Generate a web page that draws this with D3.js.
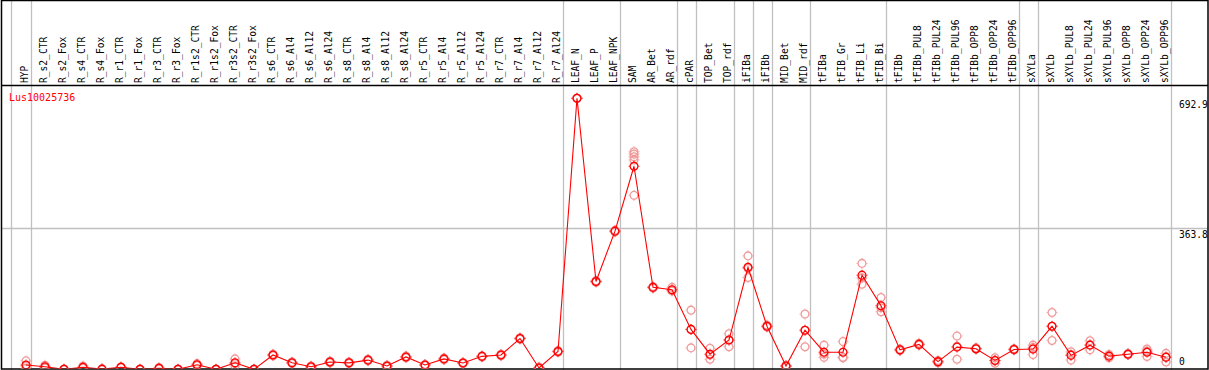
<!DOCTYPE html>
<html><head><meta charset="utf-8">
<script src="https://cdn.jsdelivr.net/npm/d3@7"></script>
<style>html,body{margin:0;padding:0;background:#fff;}svg{display:block;}</style>
</head><body>
<script>
const samples = ["HYP","R_s2_CTR","R_s2_Fox","R_s4_CTR","R_s4_Fox","R_r1_CTR","R_r1_Fox","R_r3_CTR","R_r3_Fox","R_r1s2_CTR","R_r1s2_Fox","R_r3s2_CTR","R_r3s2_Fox","R_s6_CTR","R_s6_Al4","R_s6_Al12","R_s6_Al24","R_s8_CTR","R_s8_Al4","R_s8_Al12","R_s8_Al24","R_r5_CTR","R_r5_Al4","R_r5_Al12","R_r5_Al24","R_r7_CTR","R_r7_Al4","R_r7_Al12","R_r7_Al24","LEAF_N","LEAF_P","LEAF_NPK","SAM","AR_Bet","AR_rdf","cPAR","TOP_Bet","TOP_rdf","iFIBa","iFIBb","MID_Bet","MID_rdf","tFIBa","tFIB_Gr","tFIB_Li","tFIB_Bi","tFIBb","tFIBb_PUL8","tFIBb_PUL24","tFIBb_PUL96","tFIBb_OPP8","tFIBb_OPP24","tFIBb_OPP96","sXYLa","sXYLb","sXYLb_PUL8","sXYLb_PUL24","sXYLb_PUL96","sXYLb_OPP8","sXYLb_OPP24","sXYLb_OPP96"];
const means = [14.5,10,3.5,8.6,4,8.6,3.5,6,3.5,15,3.5,20,3.5,40,20,10,22,20,27,12,35,14.5,30,19.6,36.5,40,82,7,49,692.9,227,355,520,212,206,105,42,78,263,113,12,103,47,47,243,165,53,67,23,60,56,26,54,55,113,39,65,37,42,47,34];
const replicates = [[25,12,6],[14,9,7],[4,3,3.5],[12,7,7],[5,3,4],[10,8,8],[4,3,3],[8,5,5],[4,3,3],[18,14,13],[4,3,3],[30,18,12],[4,3,3],[42,40,38],[22,20,18],[12,10,8],[24,22,20],[22,20,18],[29,27,25],[14,12,10],[37,35,33],[16,14,13],[32,30,28],[21,19,18],[38,36,35],[42,40,38],[84,82,80],[9,7,5],[51,49,47],[692.9,692.9,692.9],[229,227,225],[357,355,353],[557,551,544,536,446],[214,212,210],[212,203,203],[154,105,58],[57,40,29],[94,78,61],[292,260,237],[116,112,111],[14,11,11],[144,103,61],[65,42,34],[74,34,33],[273,236,220],[186,160,150],[55,52,51],[70,66,65],[26,22,20],[88,62,29],[58,55,55],[33,26,19],[56,53,53],[65,59,41],[148,113,77],[48,42,27],[76,66,53],[41,37,33],[44,41,41],[55,50,36],[44,36,22]];
const separatorsAfter = ["HYP","R_r7_Al24","LEAF_NPK","AR_rdf","cPAR","TOP_rdf","iFIBa","iFIBb","MID_rdf","tFIB_Bi","tFIBb_OPP96","sXYLa","sXYLb_OPP96"];
const yTicks = [0, 363.8, 692.9];
const geneName = "Lus10025736";

const W = 1209, H = 370;
const svg = d3.select("body").append("svg").attr("width", W).attr("height", H);
const font = "'DejaVu Sans Mono', monospace";

const x = d3.scaleBand().domain(samples).range([11.7, 11.7 + 19 * samples.length]);
const px = s => x(s) + 14.3;
const y = d3.scaleLinear().domain([0, 692.9]).range([370.7, 98.3]);

// separators
svg.append("g").selectAll("line").data([samples[0]].map(s => ({s, start:true})).concat(separatorsAfter.map(s => ({s, start:false}))))
  .join("line")
  .attr("x1", d => Math.round(d.start ? x(d.s) - 1 : x(d.s) + x.bandwidth()) + 0.5)
  .attr("x2", d => Math.round(d.start ? x(d.s) - 1 : x(d.s) + x.bandwidth()) + 0.5)
  .attr("y1", 0).attr("y2", H)
  .attr("stroke", "#c0c0c0").attr("stroke-width", 1.3);

// gridline at middle tick
svg.append("line").attr("x1", 1).attr("x2", 1208)
  .attr("y1", Math.round(y(yTicks[1])) + 0.5).attr("y2", Math.round(y(yTicks[1])) + 0.5)
  .attr("stroke", "#c0c0c0").attr("stroke-width", 1.3);

// frame
svg.append("rect").attr("x", 1.5).attr("y", 0.5).attr("width", 1206.5).attr("height", 368.5)
  .attr("fill", "none").attr("stroke", "#000").attr("stroke-width", 1.5);
svg.append("line").attr("x1", 1).attr("x2", 1208).attr("y1", 85.5).attr("y2", 85.5)
  .attr("stroke", "#000").attr("stroke-width", 1.5);

// header labels
svg.append("g").selectAll("text").data(samples).join("text")
  .attr("transform", d => `translate(${px(d) + 1.8},83) rotate(-90)`)
  .attr("font-family", font).attr("font-size", "9.6px").attr("fill", "#000")
  .text(d => d);

// right tick labels
svg.append("g").selectAll("text").data(yTicks).join("text")
  .attr("x", 1179)
  .attr("y", d => d === 0 ? 365 : y(d) + 10)
  .attr("font-family", font).attr("font-size", "9.6px").attr("fill", "#000")
  .text(d => d);

svg.append("text").attr("x", 9).attr("y", 101).attr("font-family", font)
  .attr("font-size", "10px").attr("fill", "#ff0000").text(geneName);

svg.append("clipPath").attr("id", "plotclip").append("rect")
  .attr("x", 2).attr("y", 86).attr("width", 1205).attr("height", 282.5);
const g = svg.append("g").attr("clip-path", "url(#plotclip)");

function marker(sel, color) {
  sel.append("circle").attr("r", 3.9).attr("fill", "none").attr("stroke", color).attr("stroke-width", 1.3);
  [[0,-1],[0,1],[-1,0],[1,0]].forEach(([a,b]) => {
    sel.append("line").attr("x1", a*4.4).attr("y1", b*4.4).attr("x2", a*5.4).attr("y2", b*5.4)
      .attr("stroke", color).attr("stroke-width", 1);
  });
}

const repData = [];
samples.forEach((s, i) => replicates[i].forEach(v => repData.push({s, v})));
g.append("g").selectAll("g").data(repData).join("g")
  .attr("transform", d => `translate(${px(d.s)},${y(d.v)})`)
  .each(function() { marker(d3.select(this), "#f09a9a"); });

const line = d3.line().x((d, i) => px(samples[i])).y(d => y(d));
g.append("path").datum(means).attr("d", line).attr("fill", "none")
  .attr("stroke", "#ff0000").attr("stroke-width", 1.1);

g.append("g").selectAll("g").data(means).join("g")
  .attr("transform", (d, i) => `translate(${px(samples[i])},${y(d)})`)
  .each(function() { marker(d3.select(this), "#ff0000"); });
</script>
</body></html>
